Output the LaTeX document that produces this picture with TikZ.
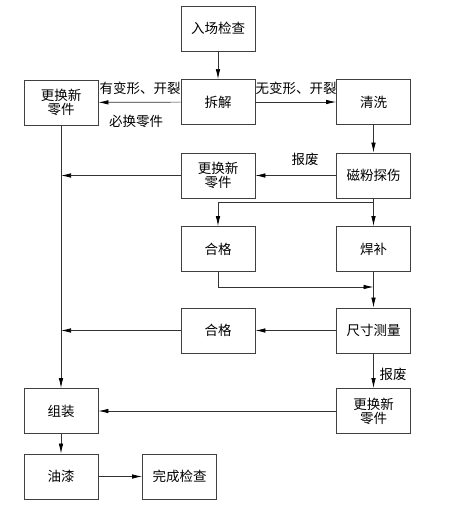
\documentclass[tikz,border=0pt]{standalone}
\usepackage{fontspec}
\setmainfont{Noto Sans CJK SC}
\usetikzlibrary{arrows.meta}
\begin{document}
\begin{tikzpicture}[x=1pt,y=-1pt,
        box/.style={draw=black!75,line width=0.9pt,minimum width=74pt,minimum height=45pt,
            inner sep=0pt,align=center,font=\fontsize{13.5}{14}\selectfont},
        flow/.style={draw=black!80,line width=0.7pt,-{Latex[length=10pt,width=4.5pt,black]}},
        wire/.style={draw=black!80,line width=0.7pt},
        lbl/.style={inner sep=0pt,font=\fontsize{13.5}{14}\selectfont}]
        \useasboundingbox (0,0) rectangle (461,508);

        \node[box] (inspect) at (218,28.5) {入场检查};
        \node[box] (replA) at (61,102.5) {更换新\\零件};
        \node[box] (disasm) at (218,102) {拆解};
        \node[box] (clean) at (373.5,102) {清洗};
        \node[box] (replB) at (218,175.5) {更换新\\零件};
        \node[box] (mpi) at (373.5,175.5) {磁粉探伤};
        \node[box] (okA) at (218,249) {合格};
        \node[box] (weld) at (373.5,249) {焊补};
        \node[box] (okB) at (218,330.5) {合格};
        \node[box] (measure) at (373.5,330.5) {尺寸测量};
        \node[box] (assemble) at (61,411) {组装};
        \node[box] (replC) at (373.5,411) {更换新\\零件};
        \node[box] (paint) at (61,476.5) {油漆};
        \node[box] (finish) at (179.5,476.5) {完成检查};

        \draw (140,88) node[lbl] (deform) {有变形、开裂};
        \draw (136,121) node[lbl] (must) {必换零件};
        \draw (296,88) node[lbl] (nodeform) {无变形、开裂};
        \draw (305,159) node[lbl] (scrapA) {报废};
        \draw (393,374) node[lbl] (scrapB) {报废};

        \coordinate (split) at (373.5,202);
        \coordinate (merge) at (373.5,287);

        \draw[flow] (inspect) -- (disasm);
        \draw[flow] (disasm) -- (replA);
        \draw[flow] (disasm) -- (clean);
        \draw[flow] (clean) -- (mpi);
        \draw[flow] (mpi) -- (replB);
        \draw[flow] (replB) -- (replA.south |- replB);
        \draw[flow] (replA) -- (assemble);
        \draw[wire] (mpi.south) -- (split);
        \draw[flow] (split) -| (okA);
        \draw[flow] (split) -- (weld);
        \draw[flow] (okA) |- (merge);
        \draw[flow] (weld) -- (measure);
        \draw[flow] (measure) -- (okB);
        \draw[flow] (okB) -- (replA.south |- okB);
        \draw[flow] (measure) -- (replC);
        \draw[flow] (replC) -- (assemble);
        \draw[flow] (assemble) -- (paint);
        \draw[flow] (paint) -- (finish);
\end{tikzpicture}
\end{document}
